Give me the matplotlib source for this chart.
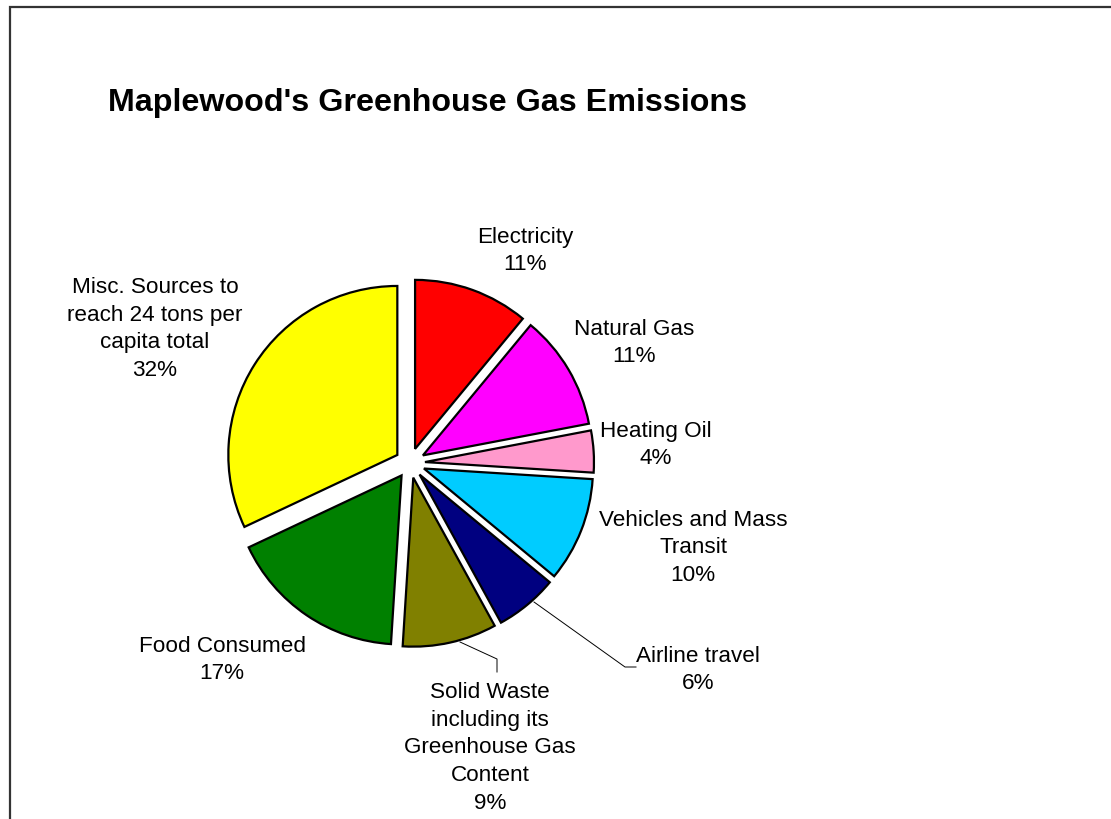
import matplotlib
matplotlib.use('Agg')
import matplotlib.pyplot as plt

plt.rcParams['font.family'] = ['Liberation Sans', 'DejaVu Sans']

# Slice data (clockwise from 12 o'clock)
sources = ['Electricity', 'Natural Gas', 'Heating Oil', 'Vehicles and Mass\nTransit',
           'Airline travel', 'Solid Waste\nincluding its\nGreenhouse Gas\nContent',
           'Food Consumed', 'Misc. Sources to\nreach 24 tons per\ncapita total']
shares = [11, 11, 4, 10, 6, 9, 17, 32]
colors = ['#FF0000', '#FF00FF', '#FF99CC', '#00CCFF', '#000080', '#808000', '#008000', '#FFFF00']

# Work in pixel-like units scaled so the pie radius is 1
W, H = 1111, 820
R = 169.0
cx, cy = 410, 464


def px(x, y):
    return ((x - cx) / R, (cy - y) / R)


fig = plt.figure(figsize=(W / 100, H / 100), dpi=100)
ax = fig.add_axes([0, 0, 1, 1])
ax.axis('off')

ax.pie(shares, colors=colors, startangle=90, counterclock=False,
       explode=[15 / R] * len(shares), radius=1.0,
       wedgeprops=dict(edgecolor='black', linewidth=1.6))
ax.set_aspect('auto')
ax.set_xlim(-cx / R, (W - cx) / R)
ax.set_ylim(-(H - cy) / R, cy / R)

# Label positions (centre of each text block, in pixels)
label_pos = [(525, 251), (634, 343), (656, 445), (693, 548),
             (698, 670), (490, 748), (222, 660), (155, 329)]
for name, val, (lx, ly) in zip(sources, shares, label_pos):
    ax.text(*px(lx, ly), f'{name}\n{val}%', ha='center', va='center',
            fontsize=16.2, linespacing=1.43)

# Leader lines
ax.plot(*zip(px(534, 603), px(625, 668), px(636, 668)), color='black', lw=0.7)
ax.plot(*zip(px(460, 643), px(497, 660), px(497, 673)), color='black', lw=0.7)

# Title
ax.text(*px(108, 103), "Maplewood's Greenhouse Gas Emissions", ha='left', va='center',
        fontsize=23.2, fontweight='bold')

# Outer frame (only left and top edges fall inside the picture)
ax.plot(*zip(px(9.5, H + 5), px(9.5, 7.5), px(W + 5, 7.5)), color='#333333', lw=1.6,
        solid_joinstyle='miter', clip_on=False)

fig.savefig('out.png', dpi=100)
